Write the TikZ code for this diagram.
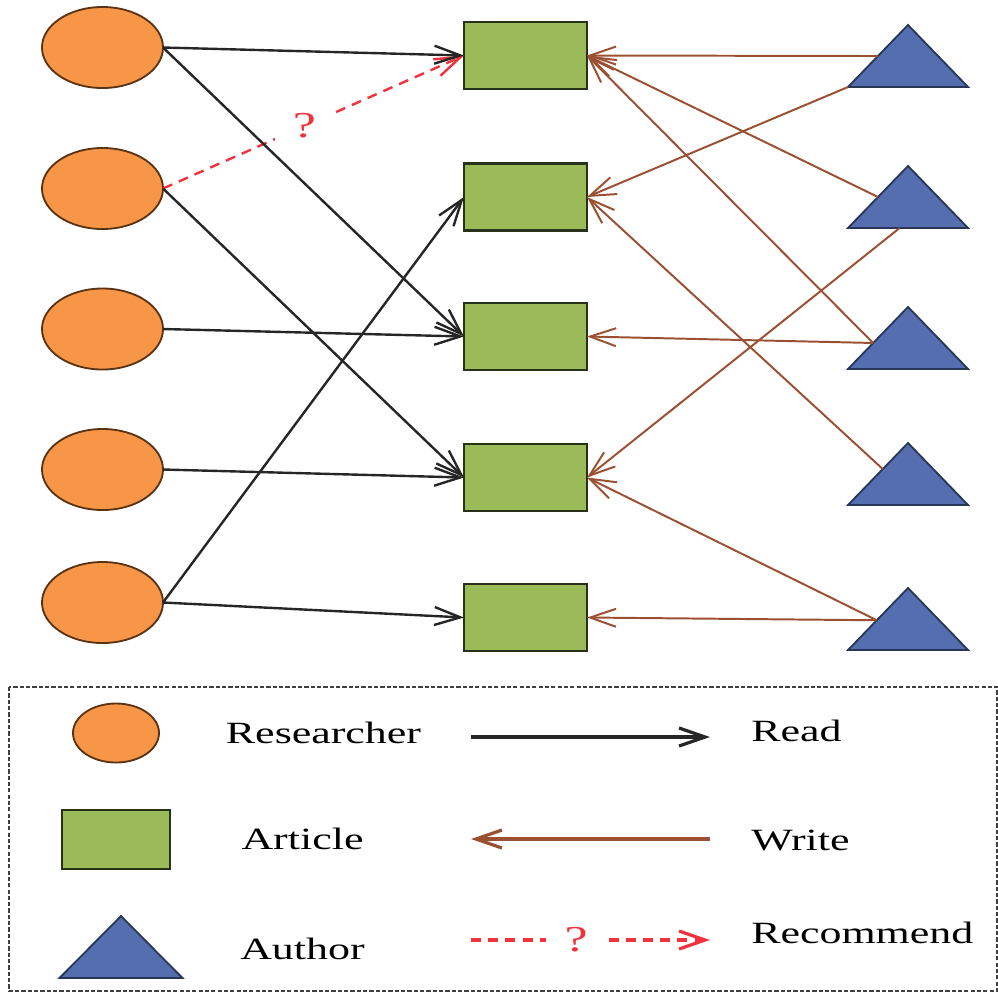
\documentclass[tikz,border=0pt]{standalone}
\usepackage{fontspec}
\setmainfont{Liberation Serif}[FakeStretch=1.42]
\usepackage{tikz}
\usetikzlibrary{calc}
\usetikzlibrary{arrows.meta}
\usetikzlibrary{shapes.geometric}
\usetikzlibrary{positioning}
\definecolor{resfill}{RGB}{247,150,70}
\definecolor{resdraw}{RGB}{90,50,20}
\definecolor{artfill}{RGB}{155,187,89}
\definecolor{artdraw}{RGB}{40,50,25}
\definecolor{autfill}{RGB}{85,110,175}
\definecolor{autdraw}{RGB}{40,55,85}
\definecolor{writecol}{RGB}{155,80,50}
\definecolor{reccol}{RGB}{240,50,60}

\begin{document}
\begin{tikzpicture}[
		x=0.025cm, y=-0.025cm,
		MyEllipses/.style={ellipse, draw=resdraw, fill=resfill, line width=1.3pt, minimum width=3.025cm, minimum height=2.025cm, inner sep=0, outer sep=0},
		MyRects/.style={rectangle, draw=artdraw, fill=artfill, line width=1.5pt, minimum width=3.075cm, minimum height=1.675cm, inner sep=0, outer sep=0},
		MyTriangles/.style={isosceles triangle, isosceles triangle stretches, shape border rotate=90, draw=autdraw, fill=autfill, line width=1.3pt, minimum width=3cm, minimum height=1.55cm, inner sep=0, outer sep=0},
		ReadArrow/.style={draw=black!85, line width=1.7pt, -{Straight Barb[length=0.65cm, width=0.45cm]}},
		WriteArrow/.style={draw=writecol, line width=1.4pt, -{Straight Barb[length=0.65cm, width=0.45cm]}},
		RecArrow/.style={draw=reccol, line width=1.7pt, dash pattern=on 0.25cm off 0.18cm, -{Straight Barb[length=0.65cm, width=0.45cm]}},
		QMark/.style={fill=white, text=reccol, inner xsep=0.46cm, inner ysep=0.05cm, font=\fontsize{26}{30}\selectfont},
		every node/.style={font=\fontsize{22}{26}\selectfont}
		]
		
		\useasboundingbox (0,0) rectangle (998,996);
		
		% researchers
		\node[MyEllipses] (R1) at (102.5,47.5) {};
		\node[MyEllipses] (R2) at (102.5,188.5) {};
		\node[MyEllipses] (R3) at (102.5,329) {};
		\node[MyEllipses] (R4) at (102.5,469.5) {};
		\node[MyEllipses] (R5) at (102.5,602.5) {};
		
		% articles
		\node[MyRects] (A1) at (525.5,55.5) {};
		\node[MyRects] (A2) at (525.5,197) {};
		\node[MyRects] (A3) at (525.5,336.5) {};
		\node[MyRects] (A4) at (525.5,477.5) {};
		\node[MyRects] (A5) at (525.5,617.5) {};
		
		% authors
		\node[MyTriangles, anchor=apex] (U1) at (908,25) {};
		\node[MyTriangles, anchor=apex] (U2) at (908,166) {};
		\node[MyTriangles, anchor=apex] (U3) at (908,307) {};
		\node[MyTriangles, anchor=apex] (U4) at (908,443) {};
		\node[MyTriangles, anchor=apex] (U5) at (908,588) {};
		
		\draw[RecArrow] (R2.east) -- node[pos=0.47, QMark]{?} (A1.west);
		
		\draw[ReadArrow] (R1.east) -- (A1.west);
		\draw[ReadArrow] (R1.east) -- (A3.west);
		\draw[ReadArrow] (R2.east) -- (A4.west);
		\draw[ReadArrow] (R3.east) -- (A3.west);
		\draw[ReadArrow] (R4.east) -- (A4.west);
		\draw[ReadArrow] (R5.east) -- (A2.west);
		\draw[ReadArrow] (R5.east) -- (A5.west);
		
		\draw[WriteArrow] ($(U1.apex)!0.5!(U1.left corner)$) -- (A1.east);
		\draw[WriteArrow] (U1.left corner) -- (A2.east);
		\draw[WriteArrow] ($(U2.apex)!0.5!(U2.left corner)$) -- (A1.east);
		\draw[WriteArrow] ($(U2.left corner)!0.43!(U2.right corner)$) -- (A4.east);
		\draw[WriteArrow] ($(U3.apex)!0.58!(U3.left corner)$) -- (A1.east);
		\draw[WriteArrow] ($(U3.apex)!0.58!(U3.left corner)$) -- (A3.east);
		\draw[WriteArrow] ($(U4.apex)!0.42!(U4.left corner)$) -- (A2.east);
		\draw[WriteArrow] ($(U5.apex)!0.52!(U5.left corner)$) -- (A4.east);
		\draw[WriteArrow] ($(U5.apex)!0.52!(U5.left corner)$) -- (A5.east);
		
		% legend
		\draw[black!75, dash pattern=on 3pt off 1.5pt, line width=1pt] (9,687) rectangle (997,991);
		
		\node[MyEllipses, minimum width=2.15cm, minimum height=1.475cm] (LR) at (116,733) {};
		\node[MyRects, minimum width=2.7cm, minimum height=1.475cm] (LA) at (116,839.5) {};
		\node[MyTriangles, minimum width=3.075cm, minimum height=1.55cm, anchor=apex] (LU) at (121,916) {};
		
		\node (LRtext) at (323.5,733) {Researcher};
		\node (LAtext) at (302.5,839) {Article};
		\node (LUtext) at (302.5,949) {Author};
		
		\node[anchor=west, inner sep=0] (LRead) at (751,730.5) {Read};
		\node[anchor=west, inner sep=0] (LWrite) at (751,840) {Write};
		\node[anchor=west, inner sep=0] (LRec) at (751,933) {Recommend};
		
		\coordinate (ReadS) at (471,737);
		\coordinate (ReadE) at (710,737);
		\coordinate (WriteS) at (710,839);
		\coordinate (WriteE) at (471,839);
		\coordinate (RecS) at (471,940);
		\coordinate (RecE) at (710,940);
		
		\draw[ReadArrow, line width=2.3pt] (ReadS) -- (ReadE);
		\draw[WriteArrow, line width=2.3pt] (WriteS) -- (WriteE);
		\draw[RecArrow, line width=2.3pt] (RecS) -- node[pos=0.44, QMark]{?} (RecE);
		
	\end{tikzpicture}
\end{document}
